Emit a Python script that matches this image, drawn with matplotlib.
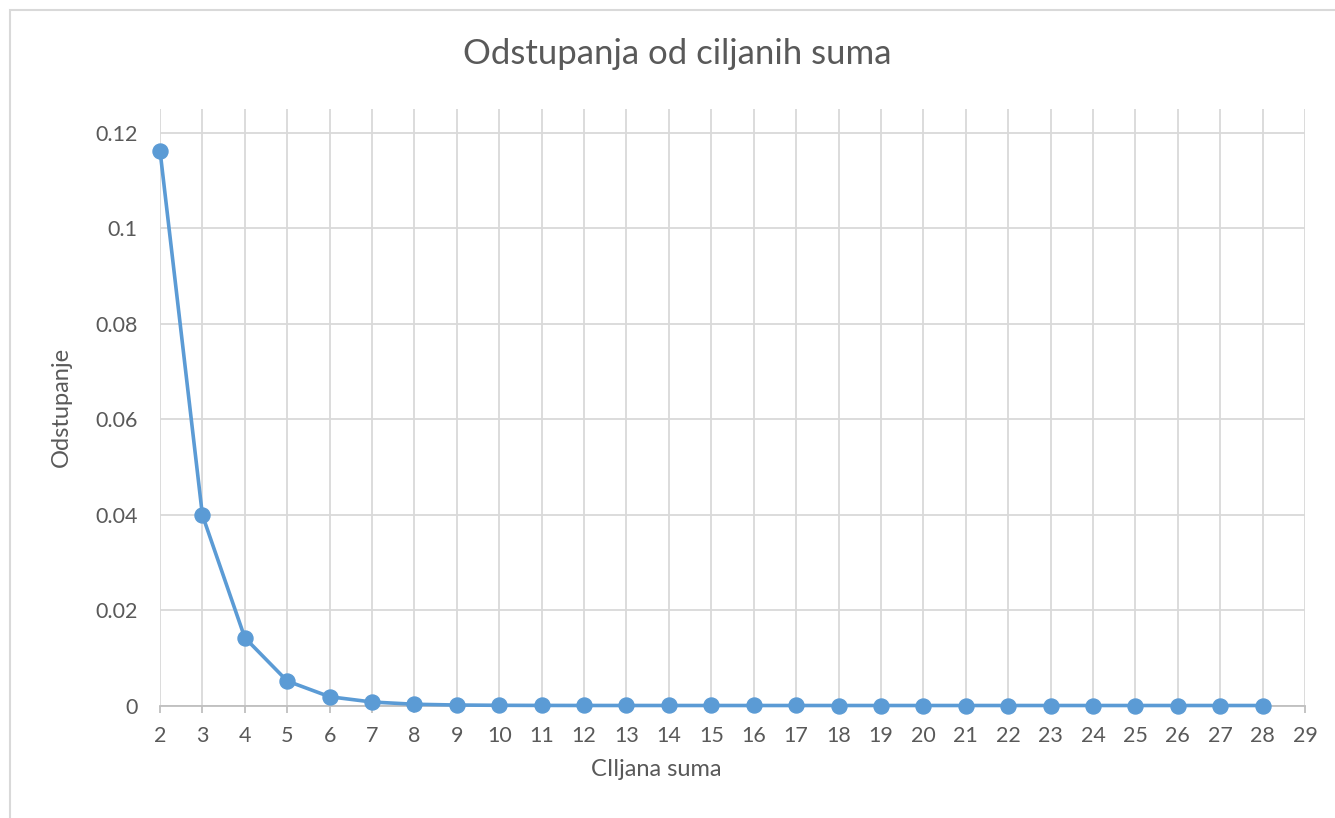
import matplotlib.pyplot as plt
from matplotlib.patches import Rectangle

# data
sums = list(range(2, 29))
deviation = [0.1163, 0.0399, 0.0142, 0.00513, 0.00184, 0.00073, 0.00026, 0.0001,
             0.00004, 0.000015, 0.000006, 0.000002, 0.000001, 0.0000004, 0.0000002,
             0.0000001, 0.0, 0.0, 0.0, 0.0, 0.0, 0.0, 0.0, 0.0, 0.0, 0.0, 0.0]
x_ticks = list(range(2, 30))
y_ticks = [0, 0.02, 0.04, 0.06, 0.08, 0.1, 0.12]
y_tick_labels = ["0", "0.02", "0.04", "0.06", "0.08", "0.1", "0.12"]

plt.rcParams['font.family'] = ['Lato', 'DejaVu Sans']
txt = '#595959'
W, H = 1335, 818

fig = plt.figure(figsize=(W / 100, H / 100), dpi=100)
# chart border (cropped at right and bottom in the reference)
fig.add_artist(Rectangle((10 / W, -0.05), 1.1, 1 - 10 / H + 0.05, transform=fig.transFigure,
                         fill=False, edgecolor='#D9D9D9', lw=1.5))

ax = fig.add_axes([160 / W, (H - 705.5) / H, (1305 - 160) / W, (705.5 - 109) / H])
ax.plot(sums, deviation, color='#5B9BD5', lw=2.6, marker='o', ms=10.8, clip_on=False, zorder=3)

ax.set_xlim(2, 29)
ax.set_ylim(0, 0.125)
ax.set_xticks(x_ticks)
ax.set_yticks(y_ticks)
ax.set_yticklabels(y_tick_labels)
ax.grid(True, color='#D9D9D9', lw=1.3)
ax.set_axisbelow(True)
for s in ['left', 'top', 'right']:
    ax.spines[s].set_visible(False)
ax.spines['bottom'].set_color('#BFBFBF')
ax.spines['bottom'].set_linewidth(1.3)
ax.tick_params(axis='x', length=5, width=1.3, color='#BFBFBF', labelcolor=txt, labelsize=15.5, pad=10)
ax.tick_params(axis='y', length=0, labelcolor=txt, labelsize=15.5, pad=16)

fig.text(677 / W, 1 - 54 / H, "Odstupanja od ciljanih suma", ha='center', va='center',
         fontsize=25, color=txt)
fig.text(61 / W, 1 - 407 / H, "Odstupanje", ha='center', va='center', rotation=90,
         fontsize=17, color=txt)
fig.text(656 / W, 1 - 769 / H, "CIljana suma", ha='center', va='center',
         fontsize=17, color=txt)

fig.savefig('out.png', dpi=100, facecolor='white')
